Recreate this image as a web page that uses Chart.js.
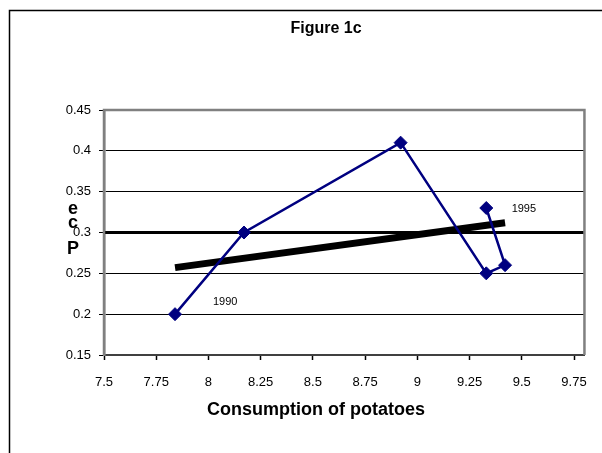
<!DOCTYPE html>
<html>
<head>
<meta charset="utf-8">
<script src="https://cdn.jsdelivr.net/npm/chart.js@4/dist/chart.umd.min.js"></script>
<style>
  body { margin: 0; background: #fff; }
  canvas { display: block; }
</style>
</head>
<body>
<canvas id="fig1c" width="602" height="453"></canvas>
<script>
// consumption of potatoes (x) vs price elasticity-ish value (y), 1990..1995
var years = [1990, 1991, 1992, 1993, 1994, 1995];
var consumption = [7.84, 8.17, 8.92, 9.33, 9.42, 9.33];
var values = [0.2, 0.3, 0.41, 0.25, 0.26, 0.33];
var trendX = [7.84, 9.42];
var trendY = [0.257, 0.312];
var refLevel = 0.3;
var xTicks = [7.5, 7.75, 8, 8.25, 8.5, 8.75, 9, 9.25, 9.5, 9.75];
var yTicks = [0.15, 0.2, 0.25, 0.3, 0.35, 0.4, 0.45];

var navy = '#000080';

function pts(xs, ys) {
  return xs.map(function (x, i) { return { x: x, y: ys[i] }; });
}

// title, stacked y title, year labels, outer border and gray plot frame
var decor = {
  id: 'decor',
  afterDatasetsDraw: function (chart) {
    var ctx = chart.ctx, a = chart.chartArea;
    var sx = chart.scales.x, sy = chart.scales.y;
    ctx.save();
    ctx.strokeStyle = '#000';
    ctx.lineWidth = 1.5;
    ctx.strokeRect(9.5, 10.5, 700, 700);

    ctx.strokeStyle = '#808080';
    ctx.lineWidth = 2.5;
    ctx.beginPath();
    ctx.moveTo(a.left, a.bottom);
    ctx.lineTo(a.left, a.top);
    ctx.lineTo(a.right, a.top);
    ctx.lineTo(a.right, a.bottom);
    ctx.stroke();

    ctx.fillStyle = '#000';
    ctx.textAlign = 'center';
    ctx.textBaseline = 'middle';
    ctx.font = 'bold 16px "Liberation Sans", Arial, sans-serif';
    ctx.fillText('Figure 1c', 326, 29);

    ctx.font = 'bold 18px "Liberation Sans", Arial, sans-serif';
    ctx.fillText('Consumption of potatoes', 316, 410);

    ctx.font = 'bold 18px "Liberation Sans", Arial, sans-serif';
    ctx.fillText('e', 73, 209);
    ctx.fillText('c', 73, 223);
    ctx.fillText('P', 73, 249);

    ctx.font = '11px "Liberation Sans", Arial, sans-serif';
    ctx.fillText(String(years[0]), sx.getPixelForValue(8.08), sy.getPixelForValue(0.215));
    ctx.fillText(String(years[years.length - 1]), sx.getPixelForValue(9.51), sy.getPixelForValue(0.329));
    ctx.restore();
  }
};

new Chart(document.getElementById('fig1c'), {
  type: 'scatter',
  data: {
    datasets: [
      {
        label: 'series',
        data: pts(consumption, values),
        showLine: true,
        borderColor: navy,
        backgroundColor: navy,
        borderWidth: 2.5,
        pointStyle: 'rectRot',
        pointRadius: 6.5,
        pointBorderWidth: 1,
        order: 0
      },
      {
        label: 'trend',
        data: pts(trendX, trendY),
        showLine: true,
        borderColor: '#000',
        borderWidth: 7,
        pointRadius: 0,
        order: 1
      },
      {
        label: 'level',
        data: [{ x: 7.5, y: refLevel }, { x: 9.8, y: refLevel }],
        showLine: true,
        borderColor: '#000',
        borderWidth: 3,
        pointRadius: 0,
        order: 2
      }
    ]
  },
  options: {
    responsive: false,
    animation: false,
    layout: { padding: { top: 110, right: 16, left: 0, bottom: 0 } },
    plugins: {
      legend: { display: false },
      tooltip: { enabled: false }
    },
    scales: {
      x: {
        type: 'linear',
        min: 7.5,
        max: 9.8,
        afterBuildTicks: function (s) { s.ticks = xTicks.map(function (v) { return { value: v }; }); },
        afterFit: function (s) { s.height = 98; },
        border: { color: '#404040', width: 2 },
        grid: { drawOnChartArea: false, drawTicks: true, tickLength: 5, color: '#000', tickWidth: 1.5 },
        ticks: {
          color: '#000',
          padding: 15,
          font: { family: '"Liberation Sans", Arial, sans-serif', size: 13 },
          callback: function (v) { return String(v); }
        }
      },
      y: {
        min: 0.15,
        max: 0.45,
        afterBuildTicks: function (s) { s.ticks = yTicks.map(function (v) { return { value: v }; }); },
        afterFit: function (s) { s.width = 104; },
        border: { color: '#808080', width: 2.5 },
        grid: {
          drawTicks: true,
          tickLength: 5,
          color: function (c) {
            var v = c.tick ? c.tick.value : null;
            return (v === 0.15 || v === 0.45 || v === refLevel) ? 'rgba(0,0,0,0)' : '#000';
          },
          tickColor: '#000',
          lineWidth: 1
        },
        ticks: {
          color: '#000',
          padding: 8,
          font: { family: '"Liberation Sans", Arial, sans-serif', size: 13 },
          callback: function (v) { return String(v); }
        }
      }
    }
  },
  plugins: [decor]
});
</script>
</body>
</html>
